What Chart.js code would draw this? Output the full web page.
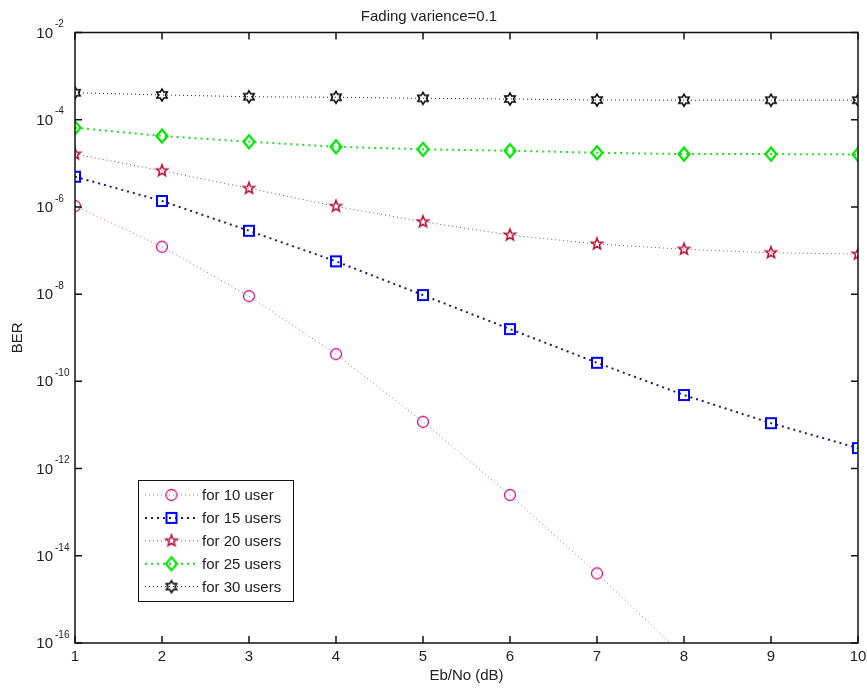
<!DOCTYPE html>
<html>
<head>
<meta charset="utf-8">
<script src="https://cdn.jsdelivr.net/npm/chart.js@4.4.1/dist/chart.umd.min.js"></script>
<style>
  html, body { margin: 0; padding: 0; background: #fff; }
  #wrap { width: 867px; height: 688px; }
</style>
</head>
<body>
<div id="wrap"><canvas id="berChart" width="867" height="688"></canvas></div>
<script>
// values (log scale)
const ebNo = [1, 2, 3, 4, 5, 6, 7, 8, 9, 10];
const ber10 = [1.05e-6, 1.22e-7, 9.0e-9, 4.2e-10, 1.18e-11, 2.47e-13, 3.94e-15, 5e-17, 5e-19, 4e-21];
const ber15 = [4.93e-6, 1.37e-6, 2.84e-7, 5.65e-8, 9.5e-9, 1.58e-9, 2.67e-10, 4.85e-11, 1.1e-11, 2.95e-12];
const ber20 = [1.63e-5, 6.76e-6, 2.67e-6, 1.03e-6, 4.57e-7, 2.26e-7, 1.41e-7, 1.07e-7, 8.9e-8, 8.3e-8];
const ber25 = [6.56e-5, 4.23e-5, 3.13e-5, 2.4e-5, 2.09e-5, 1.95e-5, 1.75e-5, 1.63e-5, 1.63e-5, 1.6e-5];
const ber30 = [4.16e-4, 3.69e-4, 3.37e-4, 3.27e-4, 3.1e-4, 2.99e-4, 2.83e-4, 2.8e-4, 2.8e-4, 2.8e-4];
const seriesLabels = ["for 10 user", "for 15 users", "for 20 users", "for 25 users", "for 30 users"];
const yExponents = [-2, -4, -6, -8, -10, -12, -14, -16];

const FONT = "'Liberation Sans', Arial, sans-serif";
const TEXT = "#222";

// small canvases used as point styles (matlab-like markers)
function markerImage(shape, color, lw) {
  const c = document.createElement("canvas");
  c.width = 20;
  c.height = 20;
  const g = c.getContext("2d");
  const m = 10;
  g.strokeStyle = color;
  g.lineWidth = lw;
  g.lineJoin = "miter";
  g.beginPath();
  if (shape === "circle") {
    g.arc(m, m, 5.5, 0, Math.PI * 2);
  } else if (shape === "square") {
    g.rect(m - 5, m - 5, 10, 10);
  } else if (shape === "diamond") {
    g.moveTo(m, m - 6.5);
    g.lineTo(m + 5.5, m);
    g.lineTo(m, m + 6.5);
    g.lineTo(m - 5.5, m);
    g.closePath();
  } else {
    // pentagram / hexagram outline
    const n = shape === "pentagram" ? 5 : 6;
    const R = 6;
    const r = shape === "pentagram" ? R * 0.42 : R / Math.sqrt(3);
    for (let i = 0; i < n * 2; i++) {
      const ang = -Math.PI / 2 + (i * Math.PI) / n;
      const rr = i % 2 === 0 ? R : r;
      const px = m + rr * Math.cos(ang);
      const py = m + rr * Math.sin(ang);
      if (i === 0) g.moveTo(px, py);
      else g.lineTo(px, py);
    }
    g.closePath();
  }
  g.stroke();
  return c;
}

const markers = [
  markerImage("circle", "#cc1890", 1.3),
  markerImage("square", "#0000ff", 2),
  markerImage("pentagram", "#b8143c", 1.5),
  markerImage("diamond", "#00e600", 2.2),
  markerImage("hexagram", "#000", 1.5),
];

function series(i, values, color, width, dash) {
  return {
    label: seriesLabels[i],
    data: ebNo.map((x, k) => ({ x: x, y: values[k] })),
    borderColor: color,
    borderWidth: width,
    borderDash: dash,
    pointStyle: markers[i],
    pointRadius: 6,
    showLine: true,
    fill: false,
    tension: 0,
  };
}

// box with inward ticks, like the original axes
const axesBox = {
  id: "axesBox",
  afterDatasetsDraw(chart) {
    const { ctx, chartArea: a, scales } = chart;
    ctx.save();
    ctx.strokeStyle = "#111";
    ctx.lineWidth = 1.5;
    ctx.strokeRect(a.left, a.top, a.right - a.left, a.bottom - a.top);
    ctx.beginPath();
    ebNo.forEach((v) => {
      const px = scales.x.getPixelForValue(v);
      ctx.moveTo(px, a.bottom);
      ctx.lineTo(px, a.bottom - 7);
      ctx.moveTo(px, a.top);
      ctx.lineTo(px, a.top + 7);
    });
    yExponents.forEach((e) => {
      const py = scales.y.getPixelForValue(Math.pow(10, e));
      ctx.moveTo(a.left, py);
      ctx.lineTo(a.left + 7, py);
      ctx.moveTo(a.right, py);
      ctx.lineTo(a.right - 7, py);
    });
    ctx.stroke();
    ctx.restore();
  },
};

// 10^n labels with raised exponent
const powerLabels = {
  id: "powerLabels",
  afterDraw(chart) {
    const { ctx, chartArea: a, scales } = chart;
    ctx.save();
    ctx.fillStyle = TEXT;
    ctx.textBaseline = "middle";
    yExponents.forEach((e) => {
      const py = scales.y.getPixelForValue(Math.pow(10, e));
      ctx.font = "15px " + FONT;
      ctx.textAlign = "right";
      ctx.fillText("10", a.left - 22, py + 1);
      ctx.font = "10px " + FONT;
      ctx.textAlign = "left";
      ctx.fillText("-" + Math.abs(e), a.left - 20, py - 8);
    });
    ctx.restore();
  },
};

// legend box in the lower left corner: line sample + marker + text
const boxLegend = {
  id: "boxLegend",
  afterDraw(chart) {
    const { ctx, chartArea: a } = chart;
    const left = a.left + 63;
    const top = a.bottom - 163;
    ctx.save();
    ctx.fillStyle = "#fff";
    ctx.fillRect(left, top, 155, 121);
    ctx.strokeStyle = "#111";
    ctx.lineWidth = 1;
    ctx.strokeRect(left + 0.5, top + 0.5, 155, 121);
    chart.data.datasets.forEach((ds, i) => {
      const y = top + 15 + i * 22.9;
      ctx.beginPath();
      ctx.strokeStyle = ds.borderColor;
      ctx.lineWidth = ds.borderWidth;
      ctx.setLineDash(ds.borderDash);
      ctx.moveTo(left + 7, y);
      ctx.lineTo(left + 60, y);
      ctx.stroke();
      ctx.setLineDash([]);
      const img = markers[i];
      ctx.drawImage(img, left + 33.5 - img.width / 2, y - img.height / 2);
      ctx.fillStyle = TEXT;
      ctx.font = "15px " + FONT;
      ctx.textAlign = "left";
      ctx.textBaseline = "middle";
      ctx.fillText(ds.label, left + 64, y + 1);
    });
    ctx.restore();
  },
};

new Chart(document.getElementById("berChart"), {
  type: "line",
  data: {
    datasets: [
      series(0, ber10, "rgba(200,60,150,0.85)", 1, [1, 3]),
      series(1, ber15, "#1c1c78", 2, [2, 4]),
      series(2, ber20, "rgba(130,60,80,0.9)", 1, [1, 3]),
      series(3, ber25, "#22dd22", 2, [2, 4]),
      series(4, ber30, "#222", 1, [1, 3]),
    ],
  },
  options: {
    responsive: false,
    animation: false,
    devicePixelRatio: 1,
    layout: { padding: { left: 0, right: 9, top: 0, bottom: 0 } },
    plugins: {
      legend: { display: false },
      tooltip: { enabled: false },
      title: {
        display: true,
        text: "Fading varience=0.1",
        color: TEXT,
        font: { family: FONT, size: 15, weight: "normal" },
        padding: { top: 8, bottom: 6.5 },
      },
    },
    scales: {
      x: {
        type: "linear",
        min: 1,
        max: 10,
        ticks: {
          stepSize: 1,
          color: TEXT,
          padding: 5,
          font: { family: FONT, size: 15 },
        },
        grid: { display: false, drawTicks: false },
        border: { display: false },
        title: {
          display: true,
          text: "Eb/No (dB)",
          color: TEXT,
          font: { family: FONT, size: 15 },
          padding: { top: 0, bottom: 3 },
        },
        afterFit(scale) {
          scale.height = 45;
          scale.paddingRight = 0;
          scale.paddingLeft = 0;
        },
      },
      y: {
        type: "logarithmic",
        min: 1e-16,
        max: 1e-2,
        ticks: { display: false },
        grid: { display: false, drawTicks: false },
        border: { display: false },
        title: {
          display: true,
          text: "BER",
          color: TEXT,
          font: { family: FONT, size: 15 },
          padding: { top: 9, bottom: 0 },
        },
        afterFit(scale) {
          scale.width = 75;
        },
      },
    },
  },
  plugins: [axesBox, powerLabels, boxLegend],
});
</script>
</body>
</html>
